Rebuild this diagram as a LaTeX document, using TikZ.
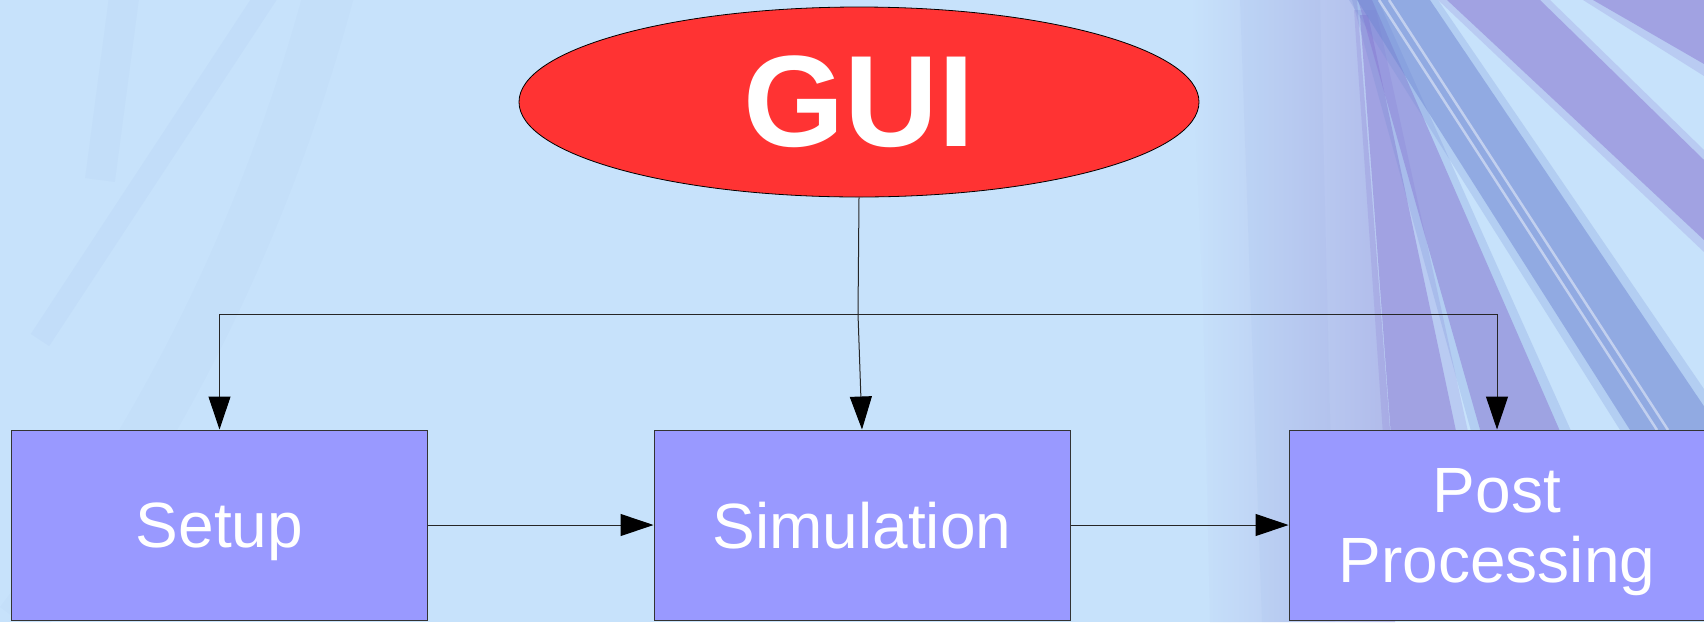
\documentclass[tikz,border=0pt]{standalone}
\usepackage{fontspec}
\setmainfont{Liberation Sans}
\usetikzlibrary{arrows.meta,shapes.geometric}
\definecolor{bgblue}{RGB}{199,226,251}
\definecolor{boxfill}{RGB}{153,153,255}
\definecolor{guired}{RGB}{255,51,51}
\definecolor{stripe}{RGB}{138,122,212}
\definecolor{stripeblue}{RGB}{112,136,212}
\definecolor{haze}{RGB}{168,172,228}
\tikzset{
  procbox/.style={draw=black!80, line width=1pt, fill=boxfill, text=white,
    minimum width=416pt, minimum height=190pt, inner sep=0pt, align=center,
    text depth=0pt, font=\fontsize{64}{70}\selectfont},
  guinode/.style={ellipse, draw=black, line width=0.8pt, fill=guired, text=white,
    minimum width=680pt, minimum height=190pt, inner sep=0pt,
    font=\fontsize{130}{130}\selectfont\bfseries},
  conn/.style={draw=black!85, line width=1pt},
  arr/.style={conn, -{Triangle[length=33pt,width=22pt,color=black]}},
  halo/.style={opacity=0.22},
  core/.style={opacity=0.5}
}
\begin{document}
\begin{tikzpicture}[x=1pt,y=-1pt]
\useasboundingbox (0,0) rectangle (1704,622);
\fill[bgblue] (0,0) rectangle (1704,622);
\begin{scope}
\clip (0,0) rectangle (1704,622);
% faint left decoration
\draw[stripeblue, opacity=0.05, line width=22pt] (40,340) -- (270,-10);
\draw[stripeblue, opacity=0.04, line width=30pt] (100,180) -- (125,-10);
\draw[stripeblue, opacity=0.03, line width=50pt] (20,622) .. controls (150,450) and (260,250) .. (330,-10);
% hazy vertical band
\shade[left color=bgblue, right color=haze!75!bgblue] (1190,0) -- (1357,0) -- (1390,430) -- (1395,622) -- (1210,622) -- (1203,300) -- cycle;
\fill[stripeblue, opacity=0.05] (1240,0) -- (1320,0) -- (1335,622) -- (1262,622) -- cycle;
% stripe 1 (steep)
\fill[stripe, halo] (1354,10) -- (1376,10) -- (1472,450) -- (1384,450) -- cycle;
\fill[stripe, core] (1360,15) -- (1368,15) -- (1460,450) -- (1392,450) -- cycle;
% stripe 2
\fill[stripeblue, halo] (1352,0) -- (1378,0) -- (1602,500) -- (1490,500) -- cycle;
\fill[stripe, core] (1358,0) -- (1372,0) -- (1590,500) -- (1500,500) -- cycle;
% blue double stripe
\fill[stripeblue, halo] (1349,0) -- (1438,0) -- (1732,430) -- (1620,430) -- cycle;
\fill[stripeblue, core] (1357,0) -- (1430,0) -- (1720,430) -- (1630,430) -- cycle;
\draw[white, opacity=0.45, line width=2.5pt] (1379,0) -- (1657,430);
\draw[white, opacity=0.45, line width=2.5pt] (1389,0) -- (1668,430);
% stripe 3
\fill[stripe, halo] (1438,0) -- (1550,0) -- (1704,150) -- (1704,252) -- cycle;
\fill[stripe, core] (1447,0) -- (1540,0) -- (1704,160) -- (1704,240) -- cycle;
% stripe 4
\fill[stripe, halo] (1583,0) -- (1704,0) -- (1704,76) -- cycle;
\fill[stripe, core] (1593,0) -- (1704,0) -- (1704,64) -- cycle;
\end{scope}

\node[guinode] (gui) at (859,102) {GUI};
\node[procbox] (setup) at (219.5,525) {Setup};
\node[procbox] (sim) at (862,525) {Simulation};
\node[procbox] (post) at (1497,525) {Post\\Processing};

\coordinate (j) at (858,314);
\coordinate (jl) at (setup.north |- j);
\coordinate (jr) at (post.north |- j);

\draw[conn] (gui.south) -- (j);
\draw[arr] (j) -- (sim.north);
\draw[conn] (jl) -- (jr);
\draw[arr] (jl) -- (setup.north);
\draw[arr] (jr) -- (post.north);
\draw[arr] (setup.east) -- (sim.west);
\draw[arr] (sim.east) -- (post.west);
\end{tikzpicture}
\end{document}
